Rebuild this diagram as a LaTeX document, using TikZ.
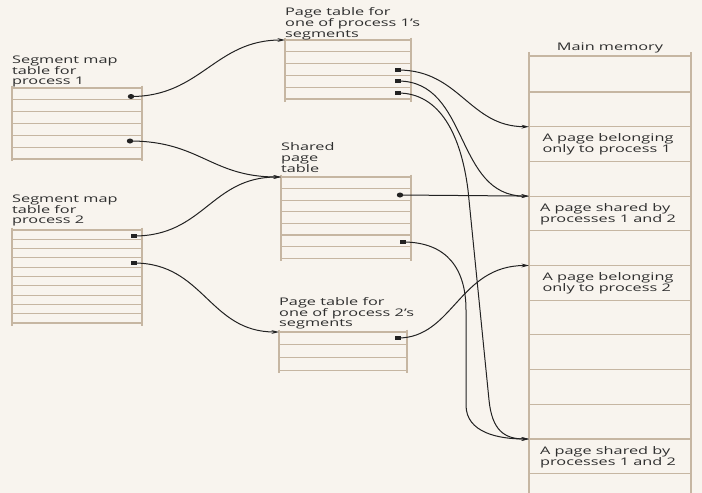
\documentclass[tikz,border=0pt]{standalone}
\usepackage{fontspec}
\setmainfont[FakeStretch=1.55]{Open Sans}
\usetikzlibrary{arrows.meta,shapes.geometric}
\definecolor{paper}{HTML}{F8F4EE}
\definecolor{rulec}{HTML}{C6B6A2}
\definecolor{ink}{HTML}{2E2E2E}
\definecolor{wirec}{HTML}{222222}
\newcommand{\memtable}[6]{%
  \foreach \k in {0,...,#5} {\draw[tabline] (#2,{#4+\k*#6}) -- (#3,{#4+\k*#6});}
  \draw[tabline] (#2,{#4-2.5}) -- (#2,{#4+#5*#6+2.5});
  \draw[tabline] (#3,{#4-2.5}) -- (#3,{#4+#5*#6+2.5});
  \coordinate (#1-tl) at (#2,#4);
}
\newcommand{\lines}[1]{\begin{tabular}[t]{@{}l@{}}#1\end{tabular}}
\begin{document}
\begin{tikzpicture}[x=1pt,y=-1pt,
  tabline/.style={draw=rulec, line width=1.1pt},
  lbl/.style={anchor=base west, inner sep=0pt, text=ink, font=\fontsize{10.5}{10.5}\selectfont},
  clbl/.style={lbl, anchor=base},
  dot/.style={ellipse, fill=wirec, inner sep=0pt, minimum width=6.5pt, minimum height=5pt},
  sqdot/.style={rectangle, fill=wirec, inner sep=0pt, minimum width=6pt, minimum height=3.6pt},
  link/.style={draw=wirec, line width=1pt, -{Stealth[length=7.5pt,width=3.8pt]}}]
\fill[paper] (0,0) rectangle (702,493);
\useasboundingbox (0,0) rectangle (702,493);

% tables
\memtable{smt1}{12}{142}{88}{6}{11.83}
\memtable{smt2}{12}{142}{230}{10}{9.3}
\memtable{pt1}{285}{411}{40}{5}{11.8}
\memtable{sh}{281}{411}{177}{7}{11.6}
\memtable{pt2}{279}{407}{332}{3}{12.7}

% main memory
\draw[tabline] (529,52) -- (529,495);
\draw[tabline] (691,52) -- (691,495);
\draw[tabline] (529,56) -- (691,56);
\foreach \k in {0,...,11} {
  \draw[tabline] (529,{92+\k*34.7}) -- (691,{92+\k*34.7});
  \coordinate (mm\k) at (529,{92+\k*34.7});
}

% labels
\node[lbl] (tsmt1) at (12,63) {\lines{Segment map\\table for\\process 1}};
\node[lbl] (tsmt2) at (12,202) {\lines{Segment map\\table for\\process 2}};
\node[lbl] (tpt1) at (285,15.5) {\lines{Page table for\\one of process 1’s\\segments}};
\node[lbl] (tsh) at (281,150.5) {\lines{Shared\\page\\table}};
\node[lbl] (tpt2) at (279,305) {\lines{Page table for\\one of process 2’s\\segments}};
\node[clbl] (tmm) at (610,50.5) {Main memory};
\node[clbl] (m1) at (608,141.5) {\lines{A page belonging\\only to process 1}};
\node[clbl] (m2) at (608,211) {\lines{A page shared by\\processes 1 and 2}};
\node[clbl] (m3) at (608,280.5) {\lines{A page belonging\\only to process 2}};
\node[clbl] (m4) at (608,454.5) {\lines{A page shared by\\processes 1 and 2}};

% entry dots
\node[dot] (s1a) at (131,96.5) {};
\node[dot] (s1b) at (130,141) {};
\node[sqdot] (s2a) at (134,236) {};
\node[sqdot] (s2b) at (134,263) {};
\node[sqdot] (p1a) at (398,70) {};
\node[sqdot] (p1b) at (398,81) {};
\node[sqdot] (p1c) at (398,93) {};
\node[dot] (sha) at (400,195) {};
\node[sqdot] (shb) at (403,242) {};
\node[sqdot] (p2a) at (398,338) {};

% connectors
\draw[link] (s1a.center) .. controls +(70,0) and +(-70,0) .. (pt1-tl);
\draw[link] (s1b.center) .. controls +(70,0) and +(-70,0) .. (sh-tl);
\draw[link] (s2a.center) .. controls +(70,0) and +(-70,0) .. (sh-tl);
\draw[link] (s2b.center) .. controls +(70,0) and +(-70,0) .. (pt2-tl);
\draw[link] (p1a.center) .. controls +(62,0) and +(-60,0) .. (mm1);
\draw[link] (p1b.center) .. controls +(72,0) and +(-75,0) .. (mm3);
\draw[link] (p1c.center) .. controls +(42,0) and +(-7,-55) .. (468,190) -- (489,400) .. controls +(3,30) and +(-25,0) .. (mm10);
\draw[link] (sha.center) -- (mm3);
\draw[link] (shb.center) .. controls +(45,0) and +(0,-40) .. (466,310) -- (466,405) .. controls +(0,28) and +(-30,0) .. (mm10);
\draw[link] (p2a.center) .. controls +(55,0) and +(-70,0) .. (mm5);
\end{tikzpicture}
\end{document}
